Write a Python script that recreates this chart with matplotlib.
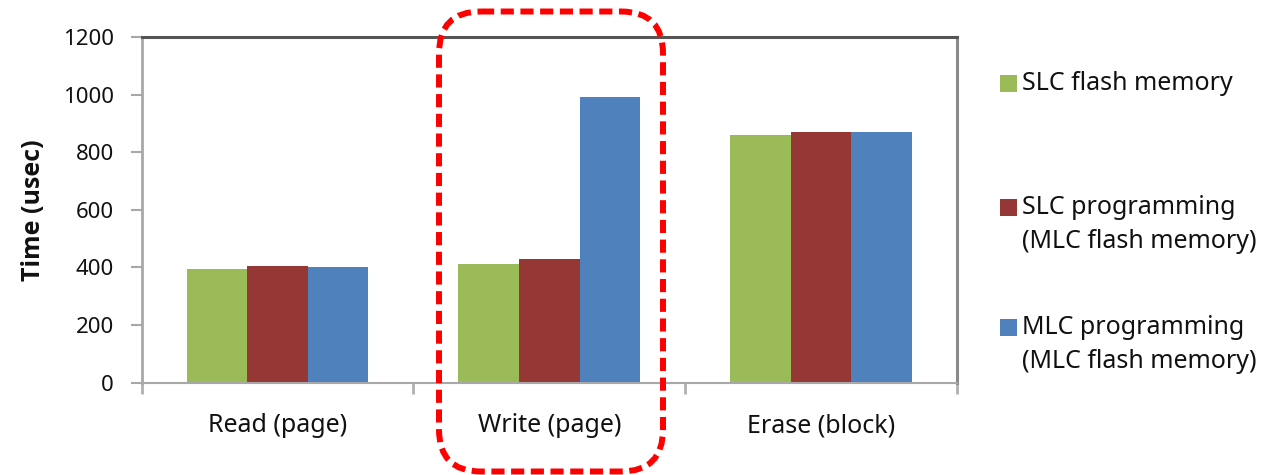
import matplotlib
matplotlib.use("Agg")
import matplotlib.pyplot as plt
import numpy as np
from matplotlib.patches import FancyBboxPatch, Rectangle

plt.rcParams['font.family'] = ['Noto Sans', 'DejaVu Sans']

# Operation latencies (usec)
categories = ["Read (page)", "Write (page)", "Erase (block)"]
series_names = ["SLC flash memory",
                "SLC programming\n(MLC flash memory)",
                "MLC programming\n(MLC flash memory)"]
slc_flash = [395, 412, 860]
slc_prog_mlc = [405, 428, 870]
mlc_prog_mlc = [400, 990, 870]
yticks = [0, 200, 400, 600, 800, 1000, 1200]

colors = ["#9BBB59", "#953735", "#4F81BD"]
series = [slc_flash, slc_prog_mlc, mlc_prog_mlc]

W, H = 1268, 475
fig = plt.figure(figsize=(W / 100, H / 100), dpi=100)
ax = fig.add_axes([141.7 / W, 1 - 382.7 / H, (957.0 - 141.7) / W, (382.7 - 37.0) / H])

x = np.arange(len(categories))
bw = 0.223
for i, (vals, c) in enumerate(zip(series, colors)):
    ax.bar(x + (i - 1) * bw, vals, width=bw, color=c, edgecolor="none", zorder=2)

ax.set_xlim(-0.5, len(categories) - 0.5)
ax.set_ylim(0, 1200)
ax.set_yticks(yticks)
ax.set_yticklabels([str(v) for v in yticks], fontsize=16, color="#111111")
ax.set_xticks(x)
ax.set_xticklabels(categories, fontsize=18, color="#111111")
ax.tick_params(axis='x', which='major', length=0, pad=22)
ax.set_xticks(np.arange(len(categories) + 1) - 0.5, minor=True)
ax.tick_params(axis='x', which='minor', length=8, width=2, color="#B0B0B0", direction='out')
ax.tick_params(axis='y', length=8, width=1.5, color="#A8A8A8", pad=12)
ax.set_ylabel("Time (usec)", fontsize=18, fontweight='bold', labelpad=12,
              family=['Open Sans', 'DejaVu Sans'], color="#111111")

ax.spines['left'].set_color("#A8A8A8")
ax.spines['left'].set_linewidth(2)
ax.spines['bottom'].set_color("#A8A8A8")
ax.spines['bottom'].set_linewidth(1.5)
ax.spines['top'].set_color("#555555")
ax.spines['top'].set_linewidth(2.2)
ax.spines['right'].set_color("#8A8A8A")
ax.spines['right'].set_linewidth(2.2)

# Overlay in pixel units for the legend and highlight frame
ov = fig.add_axes([0, 0, 1, 1], zorder=5)
ov.set_xlim(0, W)
ov.set_ylim(H, 0)
ov.axis('off')
ov.patch.set_alpha(0)

legend_rows = [83, 207, 327]
for name, c, yr in zip(series_names, colors, legend_rows):
    ov.add_patch(Rectangle((1000, yr - 8.5), 17, 17, color=c, lw=0))
    for k, line in enumerate(name.split("\n")):
        ov.text(1022, yr + k * 35, line, fontsize=18, va='center', ha='left',
                color="#111111")

frame = FancyBboxPatch((439, 11.5), 663 - 439, 471.5 - 11.5,
                       boxstyle="round,pad=0,rounding_size=42",
                       fill=False, edgecolor="#FF0000", linewidth=4.3,
                       linestyle=(0, (2.2, 1.1)))
ov.add_patch(frame)

fig.savefig("out.png", dpi=100)
